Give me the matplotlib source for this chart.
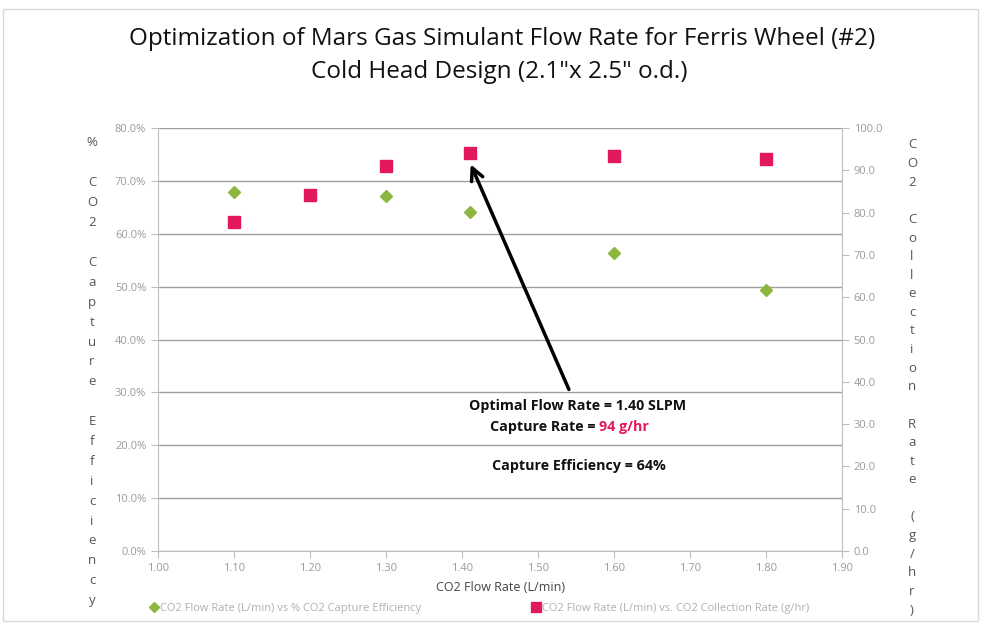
import numpy as np
import matplotlib.pyplot as plt
from matplotlib.lines import Line2D
from matplotlib.patches import Rectangle

plt.rcParams['font.family'] = ['Open Sans', 'DejaVu Sans']

# data
flow_eff = [1.10, 1.30, 1.41, 1.60, 1.80]
capture_eff = [67.9, 67.1, 64.1, 56.4, 49.3]      # %
flow_rate = [1.10, 1.20, 1.30, 1.41, 1.60, 1.80]
collection_rate = [77.7, 84.1, 90.9, 94.2, 93.4, 92.6]  # g/hr

x_ticks = np.arange(1.0, 1.91, 0.1)
left_ticks = np.arange(0, 81, 10)
right_ticks = np.arange(0, 101, 10)

green = '#8db640'
red = '#e2185c'
W, H = 982, 625

fig = plt.figure(figsize=(9.82, 6.25), dpi=100)
ax = fig.add_axes([158 / W, 1 - 551 / H, (842 - 158) / W, (551 - 128) / H])
ax2 = ax.twinx()

ax.plot(flow_eff, capture_eff, linestyle='none', marker='D', markersize=6.5,
        color=green, zorder=3)
ax2.plot(flow_rate, collection_rate, linestyle='none', marker='s', markersize=8,
         color=red, zorder=3)

ax.set_xlim(1.0, 1.9)
ax.set_ylim(0, 80)
ax2.set_ylim(0, 100)
ax.set_xticks(x_ticks)
ax.set_xticklabels([f'{v:.2f}' for v in x_ticks])
ax.set_yticks(left_ticks)
ax.set_yticklabels([f'{v:.1f}%' for v in left_ticks])
ax2.set_yticks(right_ticks)
ax2.set_yticklabels([f'{v:.1f}' for v in right_ticks])

ax.grid(axis='y', color='#a0a0a0', linewidth=1)
ax.set_axisbelow(True)
for a in (ax, ax2):
    a.tick_params(colors='#bdbdbd', labelcolor='#9a9a9a', labelsize=8, length=5)
    a.spines['top'].set_visible(False)
    for s in ('left', 'right', 'bottom'):
        a.spines[s].set_color('#bfbfbf')
ax.spines['right'].set_visible(False)
ax2.spines['left'].set_visible(False)
ax2.spines['bottom'].set_visible(False)

ax.set_xlabel('CO2 Flow Rate (L/min)', fontsize=9, color='#444444', labelpad=5)

# stacked axis titles
left_label = '% CO2 Capture Efficiency'
for i, ch in enumerate(left_label):
    fig.text(92 / W, 1 - (143 + i * 19.9) / H, ch, ha='center', va='center',
             fontsize=9.5, color='#555555')
right_label = 'CO2 Collection Rate (g/hr)'
for i, ch in enumerate(right_label):
    fig.text(912 / W, 1 - (145 + i * 18.6) / H, ch, ha='center', va='center',
             fontsize=9.5, color='#555555')

fig.text(502 / W, 1 - 39 / H,
         'Optimization of Mars Gas Simulant Flow Rate for Ferris Wheel (#2)',
         ha='center', va='center', fontsize=17.5, color='#111111')
fig.text(499 / W, 1 - 72 / H, 'Cold Head Design (2.1"x 2.5" o.d.)',
         ha='center', va='center', fontsize=17.5, color='#111111')

# annotation
ax2.annotate('', xy=(flow_rate[3], collection_rate[3] - 2.2), xycoords='data',
             xytext=(570 / W, 1 - 392 / H), textcoords='figure fraction',
             arrowprops=dict(arrowstyle='->', color='black', lw=2.5,
                             mutation_scale=22))
fs = 10.3
fig.text(578 / W, 1 - 406 / H, 'Optimal Flow Rate = 1.40 SLPM', ha='center',
         va='center', fontsize=fs, fontweight='bold', color='#111111')
fig.text(595 / W, 1 - 427 / H, 'Capture Rate =', ha='right', va='center',
         fontsize=fs, fontweight='bold', color='#111111')
fig.text(599 / W, 1 - 427 / H, '94 g/hr', ha='left', va='center',
         fontsize=fs, fontweight='bold', color=red)
fig.text(579 / W, 1 - 466 / H, 'Capture Efficiency = 64%', ha='center',
         va='center', fontsize=fs, fontweight='bold', color='#111111')

# legend
h1 = Line2D([], [], linestyle='none', marker='D', markersize=5, color=green)
h2 = Line2D([], [], linestyle='none', marker='s', markersize=7, color=red)
fig.legend([h1], ['CO2 Flow Rate (L/min) vs % CO2 Capture Efficiency'],
           loc='center left', bbox_to_anchor=(138 / W, 1 - 608 / H), frameon=False,
           fontsize=8, labelcolor='#b0b0b0', handletextpad=0.1, handlelength=1)
fig.legend([h2], ['CO2 Flow Rate (L/min) vs. CO2 Collection Rate (g/hr)'],
           loc='center left', bbox_to_anchor=(520 / W, 1 - 608 / H), frameon=False,
           fontsize=8, labelcolor='#b0b0b0', handletextpad=0.1, handlelength=1)

fig.patches.append(Rectangle((3 / W, 4 / H), 975 / W, 612 / H, transform=fig.transFigure,
                             fill=False, edgecolor='#d9d9d9', linewidth=1))

fig.savefig('out.png', dpi=100)
